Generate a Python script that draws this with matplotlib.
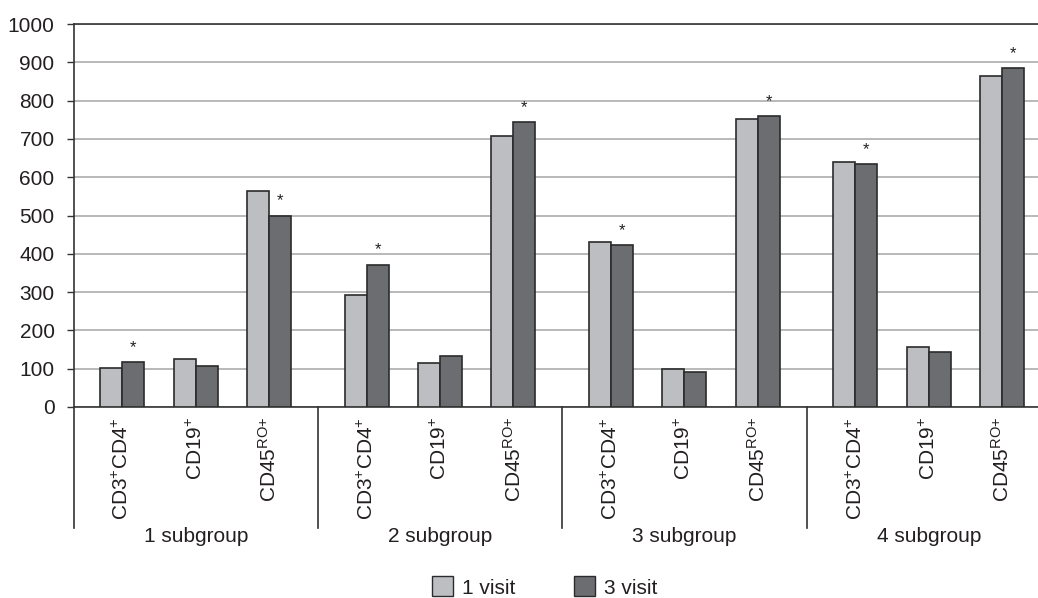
import numpy as np
import matplotlib.pyplot as plt
from matplotlib.patches import Patch

plt.rcParams['font.family'] = ['Liberation Sans', 'DejaVu Sans']
plt.rcParams['mathtext.fontset'] = 'custom'
plt.rcParams['mathtext.rm'] = 'Liberation Sans'
plt.rcParams['mathtext.default'] = 'regular'

groups = ['1 subgroup', '2 subgroup', '3 subgroup', '4 subgroup']
markers = ['CD3$^{+}$CD4$^{+}$', 'CD19$^{+}$', 'CD45$^{RO{+}}$']
visit1 = [102, 125, 565,
          293, 116, 707,
          431, 100, 753,
          640, 156, 865]
visit3 = [117, 106, 500,
          372, 134, 744,
          422, 91, 760,
          634, 144, 886]
# asterisk over the 3 visit bar
signif = [1, 0, 1,
          1, 0, 1,
          1, 0, 1,
          1, 0, 1]

light = '#bdbec2'
dark = '#6c6d71'
edge = '#2b2b2b'
txt = '#231f20'

gstep = 10 / 3
x = np.array([g * gstep + i for g in range(len(groups)) for i in range(len(markers))])
w = 0.3

fig = plt.figure(figsize=(10.38, 5.98), dpi=100)
ax = fig.add_axes([74 / 1038, 1 - 407 / 598, 1 - 74 / 1038, 383 / 598])

ax.bar(x - w / 2, visit1, w, color=light, edgecolor=edge, linewidth=1.2, zorder=3)
ax.bar(x + w / 2, visit3, w, color=dark, edgecolor=edge, linewidth=1.2, zorder=3)

for xi, v, s in zip(x, visit3, signif):
    if s:
        ax.annotate('*', (xi + w / 2, v), xytext=(0, 5), textcoords='offset points',
                    ha='center', va='bottom', fontsize=12, color=txt)

ax.set_ylim(0, 1000)
ax.set_xlim(x[0] - 0.66, x[0] + 12.49)
ax.set_yticks(np.arange(0, 1001, 100))
ax.yaxis.grid(True, color='#b3b3b3', linewidth=1.3, zorder=0)
ax.set_axisbelow(True)
ax.tick_params(axis='y', length=5, width=1, color='#333333', pad=9,
               labelsize=15, labelcolor=txt)

ax.set_xticks(x, markers * len(groups), rotation=90)
ax.tick_params(axis='x', length=0, pad=7, labelsize=15, labelcolor=txt)

ax.spines['right'].set_visible(False)
ax.spines['top'].set_color('#333333')
ax.spines['top'].set_linewidth(1.2)
for side in ['left', 'bottom']:
    ax.spines[side].set_color('#333333')
    ax.spines[side].set_linewidth(1.2)

tr = ax.get_xaxis_transform()
ybot = -121 / 383
ax.plot([x[0] - 0.66] * 2, [ybot, 0], transform=tr, color='#333333', lw=1.2, clip_on=False)
for g in range(len(groups) - 1):
    xs = g * gstep + 2 + 2 / 3
    ax.plot([xs, xs], [ybot, 0], transform=tr, color='#333333', lw=1.2, clip_on=False)
for g, name in enumerate(groups):
    ax.text(g * gstep + 1, -130 / 383, name, transform=tr, ha='center', va='center',
            fontsize=15, color=txt)

handles = [Patch(facecolor=light, edgecolor=edge, linewidth=1.0, label='1 visit'),
           Patch(facecolor=dark, edgecolor=edge, linewidth=1.0, label='3 visit')]
fig.legend(handles=handles, loc='center', bbox_to_anchor=(545 / 1038, 1 - 587 / 598),
           ncol=2, frameon=False, fontsize=15, handlelength=1.0, handleheight=1.1,
           handletextpad=0.45, columnspacing=2.8, labelcolor=txt)

fig.savefig('out.png', dpi=100)
